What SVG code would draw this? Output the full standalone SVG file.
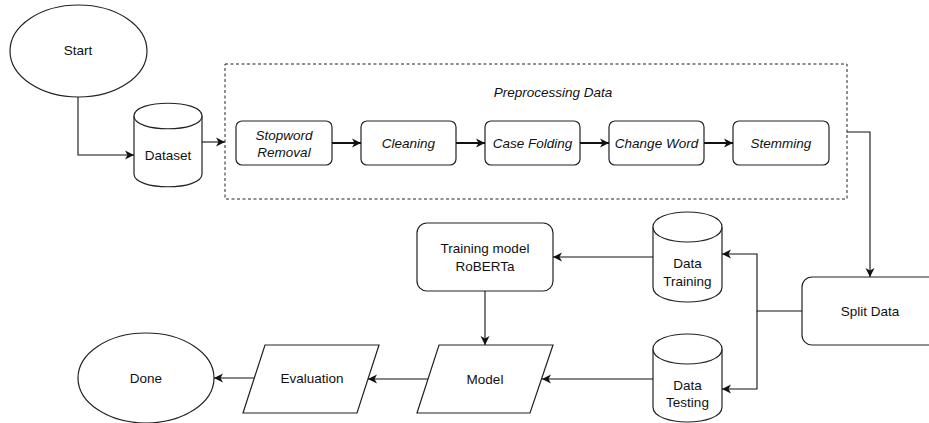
<svg xmlns="http://www.w3.org/2000/svg" width="929" height="423" viewBox="0 0 929 423">
  <style>
    .shape { fill: #ffffff; stroke: #222222; stroke-width: 1.2; }
    .dash { fill: none; stroke: #222222; stroke-width: 1; stroke-dasharray: 3 2.5; }
    .lbl { font-family: "Liberation Sans", Arial, sans-serif; font-size: 13.5px; fill: #111111; text-anchor: middle; }
    .it { font-style: italic; }
    .conn { fill: none; stroke: #111111; stroke-width: 1.1; marker-end: url(#arr); }
    .thick { stroke-width: 2; }
  </style>
  <defs>
    <marker id="arr" viewBox="-11 -6 12 12" refX="0" refY="0" markerWidth="12" markerHeight="12" markerUnits="userSpaceOnUse" orient="auto">
      <path d="M0,0 L-9,-4.5 L-6.5,0 L-9,4.5 Z" fill="#111111"/>
    </marker>
  </defs>

  <rect width="929" height="423" fill="#ffffff"/>

  <!-- preprocessing container -->
  <g id="preprocessing">
    <rect class="dash" x="225" y="64" width="622" height="135"/>
    <text class="lbl it" x="553" y="96.5">Preprocessing Data</text>
  </g>

  <g id="start">
    <ellipse class="shape" cx="78.5" cy="51" rx="68.5" ry="46"/>
    <text class="lbl" x="78" y="55">Start</text>
  </g>

  <g id="dataset">
    <path class="shape" d="M134,116 C134,99 202,99 202,116 L202,174 C202,191 134,191 134,174 Z"/>
    <path class="shape" fill="none" d="M202,116 C202,133 134,133 134,116"/>
    <text class="lbl" x="168" y="159.5">Dataset</text>
  </g>

  <g id="stopword">
    <rect class="shape" x="236" y="121" width="96" height="44" rx="6"/>
    <text class="lbl it" x="284" y="139.5">Stopword</text>
    <text class="lbl it" x="284" y="156.5">Removal</text>
  </g>

  <g id="cleaning">
    <rect class="shape" x="361" y="121" width="95" height="44" rx="6"/>
    <text class="lbl it" x="408.5" y="147.5">Cleaning</text>
  </g>

  <g id="case-folding">
    <rect class="shape" x="485" y="121" width="95" height="44" rx="6"/>
    <text class="lbl it" x="532.5" y="147.5">Case Folding</text>
  </g>

  <g id="change-word">
    <rect class="shape" x="609" y="121" width="95" height="44" rx="6"/>
    <text class="lbl it" x="656.5" y="147.5">Change Word</text>
  </g>

  <g id="stemming">
    <rect class="shape" x="733" y="121" width="96" height="44" rx="6"/>
    <text class="lbl it" x="781" y="147.5">Stemming</text>
  </g>

  <g id="split-data">
    <rect class="shape" x="802" y="277" width="138" height="68" rx="10"/>
    <text class="lbl" x="870" y="315.5">Split Data</text>
  </g>

  <g id="data-training">
    <path class="shape" d="M653,227 C653,207 722,207 722,227 L722,287 C722,307 653,307 653,287 Z"/>
    <path class="shape" fill="none" d="M722,227 C722,247 653,247 653,227"/>
    <text class="lbl" x="687.5" y="267.5">Data</text>
    <text class="lbl" x="687.5" y="285.5">Training</text>
  </g>

  <g id="data-testing">
    <path class="shape" d="M653,349 C653,329 722,329 722,349 L722,407 C722,427 653,427 653,407 Z"/>
    <path class="shape" fill="none" d="M722,349 C722,369 653,369 653,349"/>
    <text class="lbl" x="687.5" y="389.5">Data</text>
    <text class="lbl" x="687.5" y="406.5">Testing</text>
  </g>

  <g id="training-model">
    <rect class="shape" x="417" y="223" width="136" height="68" rx="10"/>
    <text class="lbl" x="485" y="252.5">Training model</text>
    <text class="lbl" x="485" y="270.5">RoBERTa</text>
  </g>

  <g id="model">
    <path class="shape" d="M439,345 L553,345 L530,413 L417,413 Z"/>
    <text class="lbl" x="485" y="383.5">Model</text>
  </g>

  <g id="evaluation">
    <path class="shape" d="M265,345 L379,345 L357,413 L243,413 Z"/>
    <text class="lbl" x="312" y="382.5">Evaluation</text>
  </g>

  <g id="done">
    <ellipse class="shape" cx="146" cy="378" rx="68" ry="45"/>
    <text class="lbl" x="146" y="382.5">Done</text>
  </g>

  <!-- connectors -->
  <g id="connectors">
    <path class="conn" d="M78,97 V155 H134"/>
    <path class="conn" d="M202,142 H225"/>
    <path class="conn thick" d="M332,143 H361"/>
    <path class="conn thick" d="M456,143 H485"/>
    <path class="conn thick" d="M580,143 H609"/>
    <path class="conn thick" d="M704,143 H733"/>
    <path class="conn" d="M847,132 H870 V277"/>
    <path class="conn" d="M802,311 H757 V254 H722"/>
    <path class="conn" d="M757,311 V389 H722"/>
    <path class="conn" d="M653,257 H553"/>
    <path class="conn" d="M653,379 H542"/>
    <path class="conn" d="M485,291 V345"/>
    <path class="conn" d="M428,379 H368"/>
    <path class="conn" d="M254,378 H214"/>
  </g>
</svg>
